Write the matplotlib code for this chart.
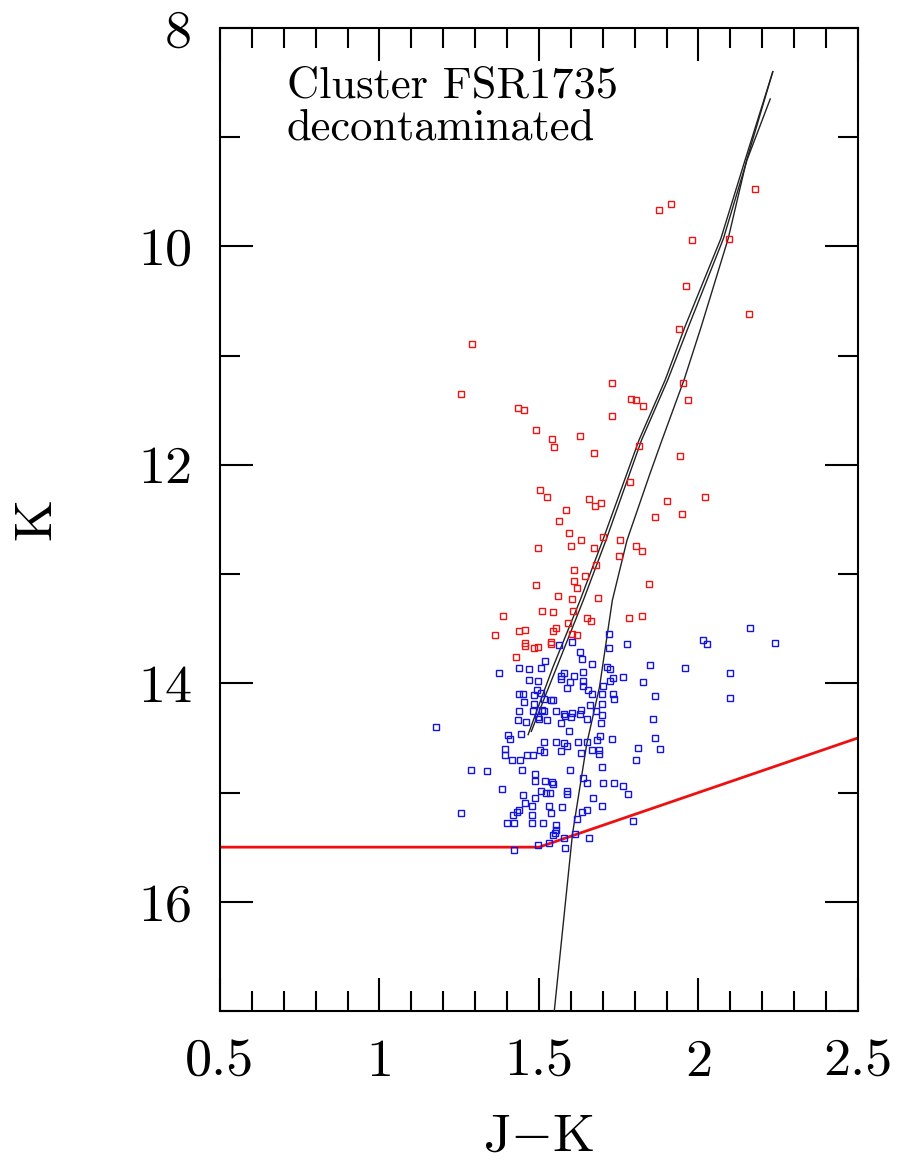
import matplotlib
matplotlib.use("Agg")
import matplotlib.pyplot as plt

plt.rcParams["font.family"] = ["cmr10", "DejaVu Serif"]
plt.rcParams["mathtext.fontset"] = "cm"
plt.rcParams["axes.unicode_minus"] = False
plt.rcParams["axes.formatter.use_mathtext"] = True

# Decontaminated member stars (J-K colour, K magnitude)
bright_jk = [2.177, 1.877, 1.915, 1.979, 2.095, 1.962, 2.158, 1.940, 1.291, 1.255,
             1.729, 1.951, 1.788, 1.803, 1.827, 1.966, 1.435, 1.452, 1.729, 1.491,
             1.542, 1.629, 1.546, 1.672, 1.813, 1.941, 1.786, 1.503, 1.526, 1.658,
             1.695, 1.675, 1.900, 2.020, 1.586, 1.865, 1.947, 1.563, 1.594, 1.633,
             1.702, 1.755, 1.497, 1.601, 1.672, 1.804, 1.824, 1.750, 1.678, 1.611,
             1.645, 1.610, 1.491, 1.845, 1.618, 1.561, 1.604, 1.686, 1.386, 1.510,
             1.543, 1.607, 1.651, 1.662, 1.783, 1.824, 1.592, 1.552, 1.437, 1.457,
             1.545, 1.604, 1.618, 1.363, 1.457, 1.457, 1.538, 1.538, 1.485, 1.497,
             1.428]
bright_k = [9.47, 9.67, 9.61, 9.94, 9.93, 10.36, 10.62, 10.76, 10.89, 11.35,
            11.25, 11.25, 11.40, 11.41, 11.46, 11.41, 11.48, 11.50, 11.55, 11.68,
            11.76, 11.74, 11.84, 11.89, 11.83, 11.92, 12.16, 12.23, 12.29, 12.31,
            12.35, 12.38, 12.33, 12.29, 12.41, 12.48, 12.45, 12.51, 12.62, 12.69,
            12.66, 12.69, 12.76, 12.74, 12.76, 12.74, 12.79, 12.83, 12.92, 12.96,
            13.02, 13.06, 13.10, 13.09, 13.13, 13.20, 13.23, 13.22, 13.38, 13.34,
            13.35, 13.34, 13.40, 13.43, 13.40, 13.38, 13.45, 13.49, 13.52, 13.51,
            13.52, 13.55, 13.56, 13.56, 13.63, 13.66, 13.62, 13.64, 13.68, 13.67,
            13.76]

faint_jk = [1.720, 1.563, 1.604, 1.720, 1.777, 2.013, 2.027, 2.163, 2.241, 1.629,
            1.635, 1.518, 1.666, 1.849, 1.958, 2.098, 1.376, 1.437, 1.468, 1.507,
            1.714, 1.724, 1.469, 1.496, 1.568, 1.578, 1.609, 1.638, 1.570, 1.596,
            1.589, 1.638, 1.639, 1.653, 1.700, 1.722, 1.732, 1.764, 1.826, 1.437,
            1.450, 1.495, 1.484, 1.507, 1.516, 1.539, 1.544, 1.665, 1.697, 1.731,
            1.734, 1.865, 2.100, 1.453, 1.483, 1.438, 1.481, 1.510, 1.517, 1.554,
            1.579, 1.603, 1.581, 1.600, 1.633, 1.630, 1.660, 1.679, 1.697, 1.699,
            1.650, 1.695, 1.434, 1.459, 1.496, 1.501, 1.526, 1.570, 1.858, 1.177,
            1.443, 1.404, 1.410, 1.594, 1.553, 1.579, 1.587, 1.516, 1.621, 1.650,
            1.683, 1.692, 1.730, 1.864, 1.809, 1.879, 1.804, 1.394, 1.394, 1.462,
            1.482, 1.503, 1.516, 1.569, 1.633, 1.667, 1.689, 1.687, 1.415, 1.441,
            1.448, 1.286, 1.336, 1.597, 1.698, 1.488, 1.488, 1.519, 1.540, 1.545,
            1.638, 1.650, 1.700, 1.736, 1.764, 1.780, 1.384, 1.506, 1.522, 1.534,
            1.587, 1.589, 1.450, 1.488, 1.670, 1.457, 1.438, 1.430, 1.419, 1.478,
            1.530, 1.573, 1.697, 1.635, 1.652, 1.537, 1.479, 1.618, 1.256, 1.399,
            1.422, 1.479, 1.512, 1.552, 1.552, 1.551, 1.796, 1.544, 1.532, 1.578,
            1.612, 1.658, 1.498, 1.423, 1.582]
faint_k = [13.55, 13.65, 13.62, 13.68, 13.64, 13.60, 13.64, 13.49, 13.63, 13.71,
           13.78, 13.80, 13.82, 13.83, 13.86, 13.91, 13.91, 13.86, 13.87, 13.86,
           13.85, 13.87, 13.97, 13.98, 13.93, 13.91, 13.93, 13.90, 13.96, 13.99,
           14.04, 13.98, 14.02, 14.06, 14.02, 13.98, 13.95, 13.94, 13.99, 14.10,
           14.10, 14.06, 14.11, 14.09, 14.14, 14.15, 14.15, 14.10, 14.10, 14.10,
           14.14, 14.12, 14.13, 14.17, 14.19, 14.25, 14.25, 14.24, 14.25, 14.25,
           14.28, 14.27, 14.30, 14.31, 14.24, 14.28, 14.20, 14.25, 14.19, 14.29,
           14.33, 14.36, 14.34, 14.35, 14.31, 14.33, 14.34, 14.36, 14.33, 14.40,
           14.46, 14.47, 14.51, 14.44, 14.54, 14.55, 14.57, 14.54, 14.54, 14.54,
           14.52, 14.48, 14.51, 14.50, 14.59, 14.60, 14.70, 14.60, 14.66, 14.66,
           14.66, 14.61, 14.63, 14.62, 14.64, 14.61, 14.61, 14.65, 14.70, 14.70,
           14.79, 14.79, 14.80, 14.79, 14.77, 14.83, 14.89, 14.89, 14.90, 14.92,
           14.87, 14.91, 14.91, 14.91, 14.94, 15.01, 14.97, 14.99, 15.00, 15.00,
           14.99, 15.01, 15.02, 15.05, 15.05, 15.10, 15.16, 15.18, 15.21, 15.12,
           15.12, 15.13, 15.12, 15.18, 15.16, 15.19, 15.21, 15.24, 15.19, 15.28,
           15.28, 15.28, 15.28, 15.30, 15.34, 15.37, 15.26, 15.39, 15.46, 15.42,
           15.38, 15.42, 15.48, 15.53, 15.51]

# Isochrone: red giant branch, descent to the horizontal branch, asymptotic giant branch
rgb_jk = [1.548, 1.605, 1.650, 1.690, 1.730, 1.776, 1.848, 1.886, 1.955, 2.008,
          2.093, 2.151, 2.233]
rgb_k = [17.00, 15.38, 14.55, 14.03, 13.24, 12.69, 12.08, 11.77, 11.22, 10.74,
         9.93, 9.21, 8.40]
hb_jk = [2.233, 2.146, 2.070, 1.957, 1.896, 1.814, 1.700, 1.629, 1.544, 1.506, 1.466]
hb_k = [8.40, 9.21, 9.93, 10.74, 11.22, 11.77, 12.69, 13.24, 13.85, 14.15, 14.47]
agb_jk = [1.476, 1.515, 1.556, 1.639, 1.710, 1.822, 1.904, 1.968, 2.078, 2.152, 2.225]
agb_k = [14.44, 14.15, 13.85, 13.24, 12.69, 11.77, 11.22, 10.74, 9.93, 9.21, 8.65]

# Colour-magnitude filter boundary
cut_jk = [0.5, 1.5, 2.5]
cut_k = [15.5, 15.5, 14.5]

x_ticks = [0.5, 1.0, 1.5, 2.0, 2.5]
x_ticklabels = ["0.5", "1", "1.5", "2", "2.5"]
y_ticks = [8, 10, 12, 14, 16]
y_ticklabels = ["8", "10", "12", "14", "16"]

fig = plt.figure(figsize=(9, 11.61), dpi=100)
ax = fig.add_axes([0.2444, 0.1292, 0.7089, 0.8467])

ax.plot(cut_jk, cut_k, color="#ee1010", lw=2.0, zorder=2)
for xs, ys in ((rgb_jk, rgb_k), (hb_jk, hb_k), (agb_jk, agb_k)):
    ax.plot(xs, ys, color="#222222", lw=1.0, zorder=3)

ax.plot(bright_jk, bright_k, ls="none", marker="s", ms=4.0, mfc="none",
        mec="#ee1414", mew=1.0, zorder=4)
ax.plot(faint_jk, faint_k, ls="none", marker="s", ms=4.0, mfc="none",
        mec="#1414e0", mew=1.0, zorder=4)

ax.set_xlim(0.5, 2.5)
ax.set_ylim(17, 8)

ax.set_xticks(x_ticks)
ax.set_xticklabels(x_ticklabels)
ax.set_xticks([0.5 + 0.1 * i for i in range(21)], minor=True)
ax.set_yticks(y_ticks)
ax.set_yticklabels(y_ticklabels)
ax.set_yticks(list(range(8, 18)), minor=True)

ax.tick_params(which="both", direction="in", top=True, right=True, width=1.5,
               colors="black")
ax.tick_params(which="major", length=24, labelsize=39, pad=20)
ax.tick_params(which="minor", length=14.5)
for s in ax.spines.values():
    s.set_linewidth(1.5)

ax.set_xlabel("J$-$K", fontsize=39, labelpad=20)
ax.set_ylabel("K", fontsize=39, labelpad=56)

ax.text(0.71, 8.64, "Cluster FSR1735", fontsize=32, va="baseline", ha="left")
ax.text(0.71, 9.02, "decontaminated", fontsize=32, va="baseline", ha="left")

fig.savefig("out.png", dpi=100)
